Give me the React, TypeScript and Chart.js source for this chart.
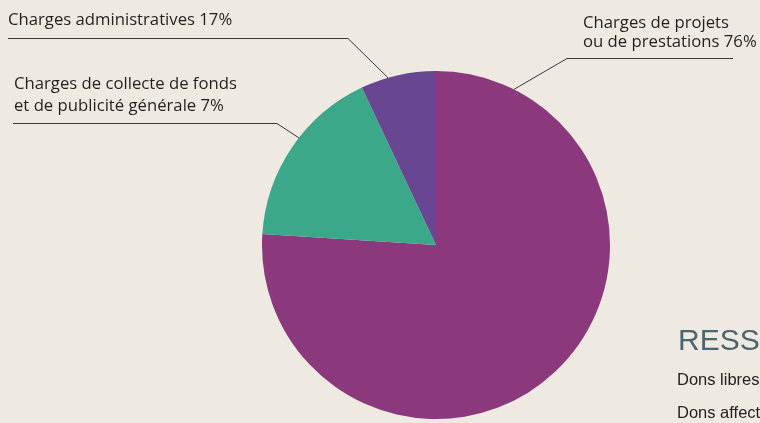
import React, { useEffect, useRef } from "react";
import { Chart, registerables } from "chart.js";

Chart.register(...registerables);

const categories = [
  "Charges de projets ou de prestations",
  "Charges de collecte de fonds et de publicité générale",
  "Charges administratives",
];
const values = [76, 17, 7];
const colors = ["#8B387D", "#3BA88A", "#694692"];

// label text lines (as printed in the reference)
const labelProjets = ["Charges de projets", "ou de prestations 76%"];
const labelAdmin = ["Charges administratives 17%"];
const labelCollecte = ["Charges de collecte de fonds", "et de publicité générale 7%"];
const sideTitle = "RESSOURCES";
const sideItems = ["Dons libres", "Dons affectés"];

const BG = "#EEEAE2";

const annotPlugin = {
  id: "annot",
  afterDraw(chart: any) {
    const ctx = chart.ctx as CanvasRenderingContext2D;
    const arc = chart.getDatasetMeta(0).data[0];
    if (!arc) return;
    const cx = arc.x;
    const cy = arc.y;
    const r = arc.outerRadius;
    const pt = (degFromTopCw: number) => {
      const a = (degFromTopCw - 90) * (Math.PI / 180);
      return [cx + r * Math.cos(a), cy + r * Math.sin(a)];
    };
    ctx.save();
    ctx.strokeStyle = "#3a3a3a";
    ctx.lineWidth = 1;
    ctx.fillStyle = "#231F20";
    ctx.font = "16.7px 'Open Sans', sans-serif";
    ctx.textBaseline = "alphabetic";
    ctx.textAlign = "left";

    // Charges administratives
    ctx.fillText(labelAdmin[0], 8, 25);
    let p = pt(360 - 16);
    ctx.beginPath();
    ctx.moveTo(8, 38.5);
    ctx.lineTo(348, 38.5);
    ctx.lineTo(p[0], p[1]);
    ctx.stroke();

    // Charges de collecte
    ctx.fillText(labelCollecte[0], 14, 89);
    ctx.fillText(labelCollecte[1], 14, 111);
    p = pt(360 - 52);
    ctx.beginPath();
    ctx.moveTo(13, 123.5);
    ctx.lineTo(277, 123.5);
    ctx.lineTo(p[0], p[1]);
    ctx.stroke();

    // Charges de projets
    ctx.fillText(labelProjets[0], 583, 28);
    ctx.fillText(labelProjets[1], 583, 47);
    p = pt(26.6);
    ctx.beginPath();
    ctx.moveTo(733, 58.5);
    ctx.lineTo(567, 58.5);
    ctx.lineTo(p[0], p[1]);
    ctx.stroke();

    // side block (cut off at the right edge)
    ctx.fillStyle = "#4A6470";
    ctx.font = "30px 'Liberation Sans', Arial, sans-serif";
    ctx.fillText(sideTitle, 678, 350);
    ctx.fillStyle = "#222";
    ctx.font = "16.5px 'Liberation Sans', Arial, sans-serif";
    ctx.fillText(sideItems[0], 677, 385);
    ctx.fillText(sideItems[1], 677, 418);
    ctx.restore();
  },
};

export default function App() {
  const ref = useRef<HTMLCanvasElement | null>(null);
  useEffect(() => {
    if (!ref.current) return;
    const chart = new Chart(ref.current, {
      type: "pie",
      data: {
        labels: categories,
        datasets: [
          {
            data: values,
            backgroundColor: colors,
            borderWidth: 0,
          },
        ],
      },
      options: {
        animation: false,
        responsive: false,
        maintainAspectRatio: false,
        layout: { padding: { left: 262, right: 150, top: 71, bottom: 4 } },
        plugins: {
          legend: { display: false },
          tooltip: { enabled: false },
        },
      },
      plugins: [annotPlugin],
    });
    return () => chart.destroy();
  }, []);
  return (
    <div
      style={{
        position: "absolute",
        left: 0,
        top: 0,
        width: 760,
        height: 423,
        background: BG,
        overflow: "hidden",
      }}
    >
      <canvas ref={ref} width={760} height={423} style={{ display: "block" }} />
    </div>
  );
}
